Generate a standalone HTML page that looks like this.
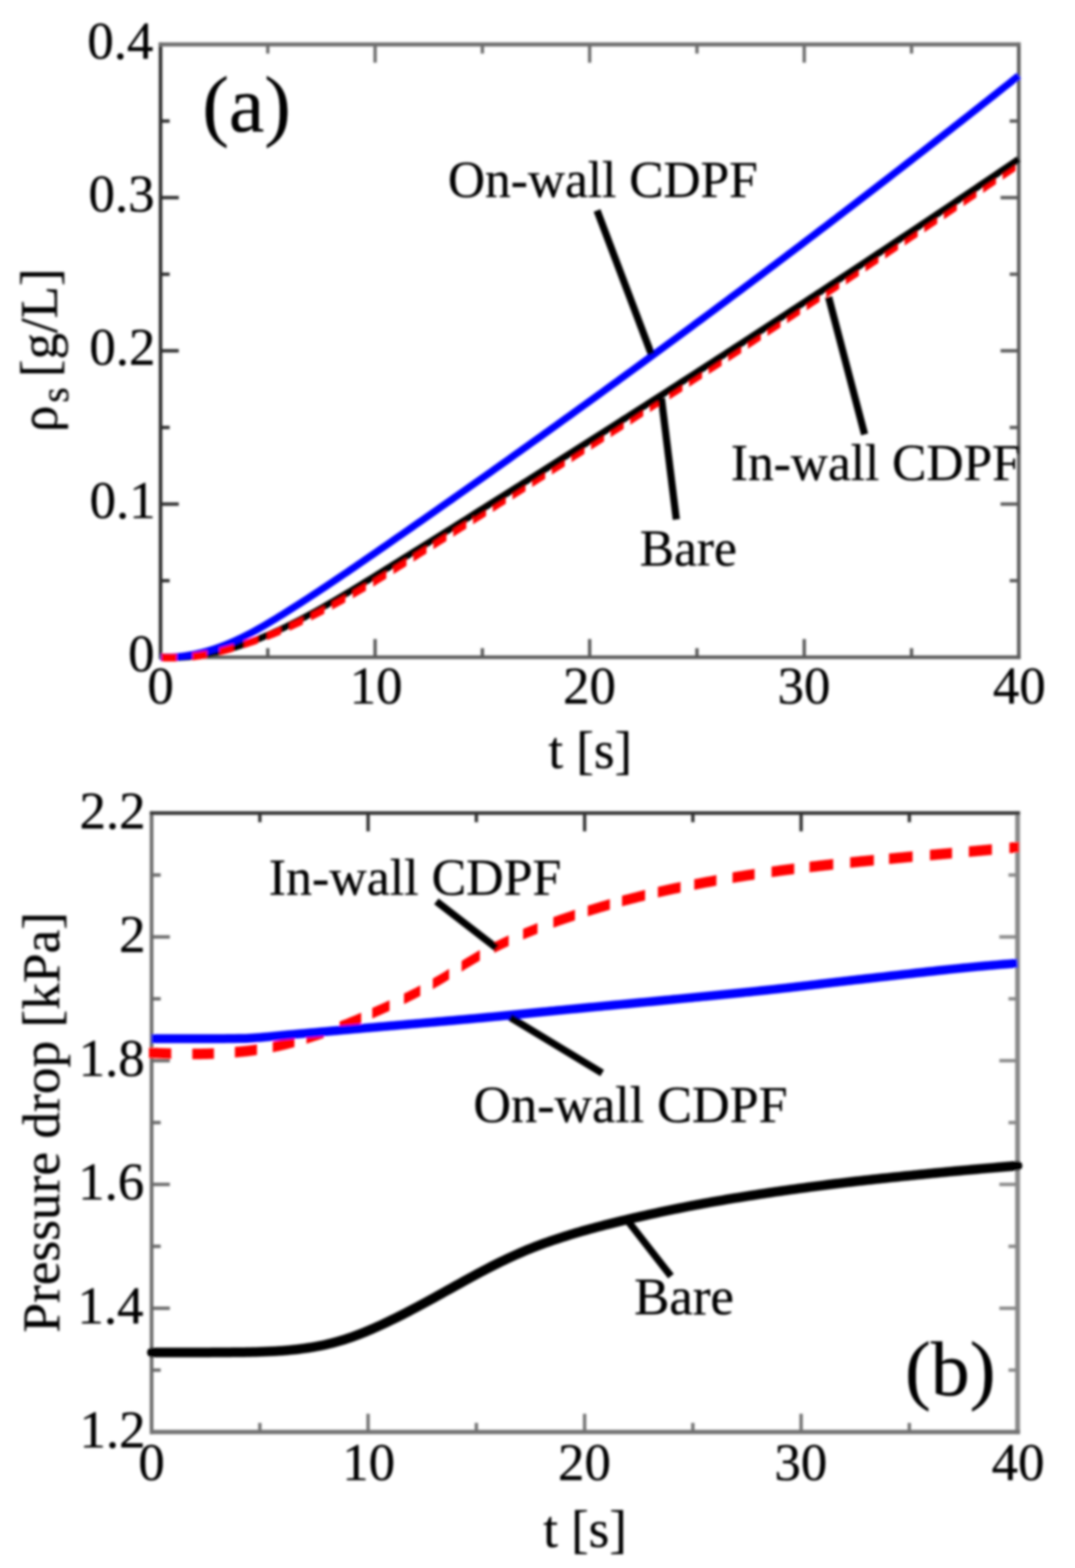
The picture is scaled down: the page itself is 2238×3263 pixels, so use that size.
<!DOCTYPE html>
<html><head><meta charset="utf-8"><title>Plot</title>
<style>
html,body{margin:0;padding:0;background:#fff;}
svg{display:block;}
text{font-family:"Liberation Serif", "Times New Roman", serif;fill:#000;stroke:#000;stroke-width:0.6px;}
</style></head>
<body>
<svg xmlns="http://www.w3.org/2000/svg" width="2238" height="3263" viewBox="0 0 2238 3263">
<defs><filter id="bl" x="0" y="0" width="100%" height="100%"><feGaussianBlur stdDeviation="2.5"/></filter></defs>
<rect width="2238" height="3263" fill="#fff"/>
<g filter="url(#bl)">
<line x1="334.2" y1="88.2" x2="334.2" y2="1371.5" stroke="#2e2e2e" stroke-width="7.5" stroke-linecap="butt"/>
<line x1="2121.0" y1="88.2" x2="2121.0" y2="1371.5" stroke="#5a5a5a" stroke-width="7.5" stroke-linecap="butt"/>
<line x1="330.4" y1="92.5" x2="2124.8" y2="92.5" stroke="#6e6e6e" stroke-width="8.5" stroke-linecap="butt"/>
<line x1="330.4" y1="1367.8" x2="2124.8" y2="1367.8" stroke="#5a5a5a" stroke-width="7.5" stroke-linecap="butt"/>
<line x1="780.9" y1="1367.8" x2="780.9" y2="1329.8" stroke="#5a5a5a" stroke-width="7"/>
<line x1="780.9" y1="92.5" x2="780.9" y2="130.5" stroke="#6e6e6e" stroke-width="7"/>
<line x1="1227.6" y1="1367.8" x2="1227.6" y2="1329.8" stroke="#5a5a5a" stroke-width="7"/>
<line x1="1227.6" y1="92.5" x2="1227.6" y2="130.5" stroke="#6e6e6e" stroke-width="7"/>
<line x1="1674.3" y1="1367.8" x2="1674.3" y2="1329.8" stroke="#5a5a5a" stroke-width="7"/>
<line x1="1674.3" y1="92.5" x2="1674.3" y2="130.5" stroke="#6e6e6e" stroke-width="7"/>
<line x1="557.5" y1="1367.8" x2="557.5" y2="1348.8" stroke="#5a5a5a" stroke-width="7"/>
<line x1="557.5" y1="92.5" x2="557.5" y2="111.5" stroke="#6e6e6e" stroke-width="7"/>
<line x1="1004.2" y1="1367.8" x2="1004.2" y2="1348.8" stroke="#5a5a5a" stroke-width="7"/>
<line x1="1004.2" y1="92.5" x2="1004.2" y2="111.5" stroke="#6e6e6e" stroke-width="7"/>
<line x1="1451.0" y1="1367.8" x2="1451.0" y2="1348.8" stroke="#5a5a5a" stroke-width="7"/>
<line x1="1451.0" y1="92.5" x2="1451.0" y2="111.5" stroke="#6e6e6e" stroke-width="7"/>
<line x1="1897.7" y1="1367.8" x2="1897.7" y2="1348.8" stroke="#5a5a5a" stroke-width="7"/>
<line x1="1897.7" y1="92.5" x2="1897.7" y2="111.5" stroke="#6e6e6e" stroke-width="7"/>
<line x1="334.2" y1="1049.0" x2="372.2" y2="1049.0" stroke="#2e2e2e" stroke-width="7"/>
<line x1="2121.0" y1="1049.0" x2="2083.0" y2="1049.0" stroke="#5a5a5a" stroke-width="7"/>
<line x1="334.2" y1="730.1" x2="372.2" y2="730.1" stroke="#2e2e2e" stroke-width="7"/>
<line x1="2121.0" y1="730.1" x2="2083.0" y2="730.1" stroke="#5a5a5a" stroke-width="7"/>
<line x1="334.2" y1="411.3" x2="372.2" y2="411.3" stroke="#2e2e2e" stroke-width="7"/>
<line x1="2121.0" y1="411.3" x2="2083.0" y2="411.3" stroke="#5a5a5a" stroke-width="7"/>
<line x1="334.2" y1="1208.4" x2="353.2" y2="1208.4" stroke="#2e2e2e" stroke-width="7"/>
<line x1="2121.0" y1="1208.4" x2="2102.0" y2="1208.4" stroke="#5a5a5a" stroke-width="7"/>
<line x1="334.2" y1="889.6" x2="353.2" y2="889.6" stroke="#2e2e2e" stroke-width="7"/>
<line x1="2121.0" y1="889.6" x2="2102.0" y2="889.6" stroke="#5a5a5a" stroke-width="7"/>
<line x1="334.2" y1="570.7" x2="353.2" y2="570.7" stroke="#2e2e2e" stroke-width="7"/>
<line x1="2121.0" y1="570.7" x2="2102.0" y2="570.7" stroke="#5a5a5a" stroke-width="7"/>
<line x1="334.2" y1="251.9" x2="353.2" y2="251.9" stroke="#2e2e2e" stroke-width="7"/>
<line x1="2121.0" y1="251.9" x2="2102.0" y2="251.9" stroke="#5a5a5a" stroke-width="7"/>
<text x="306.7" y="1464.0" font-size="110">0</text>
<text x="728.1" y="1464.0" font-size="110">10</text>
<text x="1172.3" y="1464.0" font-size="110">20</text>
<text x="1618.8" y="1464.0" font-size="110">30</text>
<text x="2067.0" y="1464.0" font-size="110">40</text>
<text x="266.7" y="1396.8" font-size="110">0</text>
<text x="186.6" y="1078.0" font-size="110">0.1</text>
<text x="186.0" y="759.1" font-size="110">0.2</text>
<text x="184.3" y="440.3" font-size="110">0.3</text>
<text x="181.8" y="121.5" font-size="110">0.4</text>
<path d="M334.2,1367.8 L341.7,1368.3 L349.2,1368.5 L356.6,1368.6 L364.1,1368.6 L371.6,1368.4 L379.1,1368.0 L386.5,1367.5 L394.0,1366.9 L401.5,1366.1 L409.0,1365.2 L416.4,1364.1 L423.9,1362.9 L431.4,1361.6 L438.9,1360.1 L446.3,1358.5 L453.8,1356.8 L461.3,1355.0 L468.8,1353.0 L476.2,1351.0 L483.7,1348.8 L491.2,1346.5 L498.7,1344.1 L506.2,1341.5 L513.6,1338.9 L521.1,1336.2 L528.6,1333.4 L536.1,1330.5 L543.5,1327.4 L551.0,1324.3 L558.5,1321.2 L566.0,1317.9 L573.4,1314.5 L580.9,1311.1 L588.4,1307.6 L595.9,1304.0 L603.3,1300.3 L610.8,1296.6 L618.3,1292.8 L625.8,1288.9 L633.2,1285.0 L640.7,1281.0 L648.2,1276.9 L655.7,1272.8 L663.2,1268.7 L670.6,1264.5 L678.1,1260.2 L685.6,1255.9 L693.1,1251.6 L700.5,1247.2 L708.0,1242.8 L715.5,1238.4 L723.0,1233.9 L730.4,1229.4 L737.9,1224.8 L745.4,1220.3 L752.9,1215.7 L760.3,1211.1 L767.8,1206.5 L775.3,1201.9 L782.8,1197.3 L790.2,1192.6 L797.7,1188.0 L805.2,1183.3 L812.7,1178.7 L820.1,1174.0 L827.6,1169.4 L835.1,1164.7 L842.6,1160.1 L850.1,1155.4 L857.5,1150.7 L865.0,1146.1 L872.5,1141.4 L880.0,1136.8 L887.4,1132.1 L894.9,1127.4 L902.4,1122.7 L909.9,1118.1 L917.3,1113.4 L924.8,1108.7 L932.3,1104.0 L939.8,1099.4 L947.2,1094.7 L954.7,1090.0 L962.2,1085.3 L969.7,1080.6 L977.1,1075.9 L984.6,1071.2 L992.1,1066.5 L999.6,1061.8 L1007.1,1057.2 L1014.5,1052.5 L1022.0,1047.7 L1029.5,1043.0 L1037.0,1038.3 L1044.4,1033.6 L1051.9,1028.9 L1059.4,1024.2 L1066.9,1019.5 L1074.3,1014.8 L1081.8,1010.1 L1089.3,1005.3 L1096.8,1000.6 L1104.2,995.9 L1111.7,991.2 L1119.2,986.4 L1126.7,981.7 L1134.1,977.0 L1141.6,972.2 L1149.1,967.5 L1156.6,962.8 L1164.1,958.0 L1171.5,953.3 L1179.0,948.5 L1186.5,943.8 L1194.0,939.0 L1201.4,934.3 L1208.9,929.5 L1216.4,924.8 L1223.9,920.0 L1231.3,915.3 L1238.8,910.5 L1246.3,905.7 L1253.8,901.0 L1261.2,896.2 L1268.7,891.4 L1276.2,886.7 L1283.7,881.9 L1291.1,877.1 L1298.6,872.3 L1306.1,867.6 L1313.6,862.8 L1321.1,858.0 L1328.5,853.2 L1336.0,848.4 L1343.5,843.6 L1351.0,838.8 L1358.4,834.0 L1365.9,829.2 L1373.4,824.4 L1380.9,819.6 L1388.3,814.8 L1395.8,810.0 L1403.3,805.2 L1410.8,800.4 L1418.2,795.5 L1425.7,790.7 L1433.2,785.9 L1440.7,781.1 L1448.1,776.3 L1455.6,771.4 L1463.1,766.6 L1470.6,761.8 L1478.1,756.9 L1485.5,752.1 L1493.0,747.2 L1500.5,742.4 L1508.0,737.6 L1515.4,732.7 L1522.9,727.9 L1530.4,723.0 L1537.9,718.1 L1545.3,713.3 L1552.8,708.4 L1560.3,703.6 L1567.8,698.7 L1575.2,693.8 L1582.7,689.0 L1590.2,684.1 L1597.7,679.2 L1605.1,674.3 L1612.6,669.5 L1620.1,664.6 L1627.6,659.7 L1635.1,654.8 L1642.5,649.9 L1650.0,645.0 L1657.5,640.1 L1665.0,635.2 L1672.4,630.3 L1679.9,625.4 L1687.4,620.5 L1694.9,615.6 L1702.3,610.7 L1709.8,605.8 L1717.3,600.8 L1724.8,595.9 L1732.2,591.0 L1739.7,586.1 L1747.2,581.1 L1754.7,576.2 L1762.1,571.3 L1769.6,566.3 L1777.1,561.4 L1784.6,556.5 L1792.0,551.5 L1799.5,546.6 L1807.0,541.6 L1814.5,536.7 L1822.0,531.7 L1829.4,526.7 L1836.9,521.8 L1844.4,516.8 L1851.9,511.9 L1859.3,506.9 L1866.8,501.9 L1874.3,496.9 L1881.8,492.0 L1889.2,487.0 L1896.7,482.0 L1904.2,477.0 L1911.7,472.0 L1919.1,467.0 L1926.6,462.0 L1934.1,457.0 L1941.6,452.0 L1949.0,447.0 L1956.5,442.0 L1964.0,437.0 L1971.5,432.0 L1979.0,427.0 L1986.4,422.0 L1993.9,416.9 L2001.4,411.9 L2008.9,406.9 L2016.3,401.9 L2023.8,396.8 L2031.3,391.8 L2038.8,386.7 L2046.2,381.7 L2053.7,376.7 L2061.2,371.6 L2068.7,366.6 L2076.1,361.5 L2083.6,356.4 L2091.1,351.4 L2098.6,346.3 L2106.0,341.2 L2113.5,336.2 L2121.0,331.1" fill="none" stroke="#000" stroke-width="13.5" stroke-linejoin="round"/>
<path d="M334.2,1367.4 L341.7,1367.6 L349.2,1367.6 L356.6,1367.4 L364.1,1367.0 L371.6,1366.4 L379.1,1365.6 L386.5,1364.6 L394.0,1363.4 L401.5,1362.1 L409.0,1360.6 L416.4,1358.9 L423.9,1357.0 L431.4,1355.0 L438.9,1352.7 L446.3,1350.4 L453.8,1347.8 L461.3,1345.1 L468.8,1342.2 L476.2,1339.1 L483.7,1335.9 L491.2,1332.6 L498.7,1329.1 L506.2,1325.5 L513.6,1321.7 L521.1,1317.8 L528.6,1313.8 L536.1,1309.7 L543.5,1305.5 L551.0,1301.2 L558.5,1296.8 L566.0,1292.3 L573.4,1287.8 L580.9,1283.2 L588.4,1278.6 L595.9,1273.9 L603.3,1269.2 L610.8,1264.4 L618.3,1259.7 L625.8,1254.9 L633.2,1250.0 L640.7,1245.2 L648.2,1240.3 L655.7,1235.4 L663.2,1230.5 L670.6,1225.5 L678.1,1220.6 L685.6,1215.6 L693.1,1210.6 L700.5,1205.5 L708.0,1200.5 L715.5,1195.4 L723.0,1190.4 L730.4,1185.3 L737.9,1180.2 L745.4,1175.0 L752.9,1169.9 L760.3,1164.8 L767.8,1159.6 L775.3,1154.5 L782.8,1149.3 L790.2,1144.1 L797.7,1139.0 L805.2,1133.8 L812.7,1128.6 L820.1,1123.4 L827.6,1118.2 L835.1,1113.1 L842.6,1107.9 L850.1,1102.7 L857.5,1097.5 L865.0,1092.2 L872.5,1087.0 L880.0,1081.8 L887.4,1076.6 L894.9,1071.4 L902.4,1066.1 L909.9,1060.9 L917.3,1055.7 L924.8,1050.4 L932.3,1045.2 L939.8,1040.0 L947.2,1034.7 L954.7,1029.4 L962.2,1024.2 L969.7,1018.9 L977.1,1013.7 L984.6,1008.4 L992.1,1003.1 L999.6,997.8 L1007.1,992.6 L1014.5,987.3 L1022.0,982.0 L1029.5,976.7 L1037.0,971.4 L1044.4,966.1 L1051.9,960.8 L1059.4,955.5 L1066.9,950.2 L1074.3,944.8 L1081.8,939.5 L1089.3,934.2 L1096.8,928.9 L1104.2,923.5 L1111.7,918.2 L1119.2,912.8 L1126.7,907.5 L1134.1,902.1 L1141.6,896.8 L1149.1,891.4 L1156.6,886.1 L1164.1,880.7 L1171.5,875.3 L1179.0,869.9 L1186.5,864.6 L1194.0,859.2 L1201.4,853.8 L1208.9,848.4 L1216.4,843.0 L1223.9,837.6 L1231.3,832.2 L1238.8,826.8 L1246.3,821.4 L1253.8,816.0 L1261.2,810.5 L1268.7,805.1 L1276.2,799.7 L1283.7,794.3 L1291.1,788.8 L1298.6,783.4 L1306.1,777.9 L1313.6,772.5 L1321.1,767.0 L1328.5,761.6 L1336.0,756.1 L1343.5,750.6 L1351.0,745.2 L1358.4,739.7 L1365.9,734.2 L1373.4,728.7 L1380.9,723.2 L1388.3,717.7 L1395.8,712.2 L1403.3,706.7 L1410.8,701.2 L1418.2,695.7 L1425.7,690.2 L1433.2,684.7 L1440.7,679.2 L1448.1,673.6 L1455.6,668.1 L1463.1,662.6 L1470.6,657.0 L1478.1,651.5 L1485.5,645.9 L1493.0,640.4 L1500.5,634.8 L1508.0,629.2 L1515.4,623.7 L1522.9,618.1 L1530.4,612.5 L1537.9,606.9 L1545.3,601.4 L1552.8,595.8 L1560.3,590.2 L1567.8,584.6 L1575.2,579.0 L1582.7,573.4 L1590.2,567.8 L1597.7,562.1 L1605.1,556.5 L1612.6,550.9 L1620.1,545.3 L1627.6,539.6 L1635.1,534.0 L1642.5,528.3 L1650.0,522.7 L1657.5,517.0 L1665.0,511.4 L1672.4,505.7 L1679.9,500.1 L1687.4,494.4 L1694.9,488.7 L1702.3,483.0 L1709.8,477.3 L1717.3,471.7 L1724.8,466.0 L1732.2,460.3 L1739.7,454.6 L1747.2,448.8 L1754.7,443.1 L1762.1,437.4 L1769.6,431.7 L1777.1,426.0 L1784.6,420.2 L1792.0,414.5 L1799.5,408.8 L1807.0,403.0 L1814.5,397.3 L1822.0,391.5 L1829.4,385.8 L1836.9,380.0 L1844.4,374.2 L1851.9,368.5 L1859.3,362.7 L1866.8,356.9 L1874.3,351.1 L1881.8,345.3 L1889.2,339.5 L1896.7,333.7 L1904.2,327.9 L1911.7,322.1 L1919.1,316.3 L1926.6,310.5 L1934.1,304.6 L1941.6,298.8 L1949.0,293.0 L1956.5,287.1 L1964.0,281.3 L1971.5,275.4 L1979.0,269.6 L1986.4,263.7 L1993.9,257.9 L2001.4,252.0 L2008.9,246.1 L2016.3,240.3 L2023.8,234.4 L2031.3,228.5 L2038.8,222.6 L2046.2,216.7 L2053.7,210.8 L2061.2,204.9 L2068.7,199.0 L2076.1,193.1 L2083.6,187.1 L2091.1,181.2 L2098.6,175.3 L2106.0,169.3 L2113.5,163.4 L2121.0,157.5" fill="none" stroke="#00f" stroke-width="15" stroke-linejoin="round"/>
<path d="M336.2,1359.9 L340.2,1360.2 L344.2,1360.4 L348.2,1360.5 L352.2,1360.6 L356.2,1360.6 L360.2,1360.6 L364.2,1360.6 L368.1,1360.5 L368.1,1376.5 L364.2,1376.6 L360.2,1376.6 L356.2,1376.6 L352.2,1376.6 L348.2,1376.5 L344.2,1376.4 L340.2,1376.2 L336.2,1375.9 Z M400.7,1358.2 L404.4,1357.8 L408.2,1357.3 L412.0,1356.8 L415.8,1356.2 L419.5,1355.6 L423.3,1355.0 L427.1,1354.4 L430.9,1353.7 L430.9,1369.7 L427.1,1370.4 L423.3,1371.0 L419.5,1371.6 L415.8,1372.2 L412.0,1372.8 L408.2,1373.3 L404.4,1373.8 L400.7,1374.2 Z M456.9,1348.1 L460.5,1347.2 L464.2,1346.2 L467.8,1345.3 L471.5,1344.3 L475.1,1343.3 L478.8,1342.2 L482.4,1341.1 L486.1,1340.0 L486.1,1356.0 L482.4,1357.1 L478.8,1358.2 L475.1,1359.3 L471.5,1360.3 L467.8,1361.3 L464.2,1362.2 L460.5,1363.2 L456.9,1364.1 Z M508.3,1332.8 L511.8,1331.6 L515.4,1330.4 L519.0,1329.2 L522.5,1328.1 L526.1,1326.9 L529.7,1325.7 L533.3,1324.5 L536.8,1323.2 L536.8,1339.2 L533.3,1340.5 L529.7,1341.7 L526.1,1342.9 L522.5,1344.1 L519.0,1345.2 L515.4,1346.4 L511.8,1347.6 L508.3,1348.8 Z M556.6,1315.9 L560.1,1314.6 L563.6,1313.2 L567.1,1311.8 L570.7,1310.4 L574.2,1308.9 L577.7,1307.5 L581.2,1306.0 L584.7,1304.5 L584.7,1320.5 L581.2,1322.0 L577.7,1323.5 L574.2,1324.9 L570.7,1326.4 L567.1,1327.8 L563.6,1329.2 L560.1,1330.6 L556.6,1331.9 Z M602.8,1296.6 L606.8,1294.8 L610.8,1293.0 L614.8,1291.1 L618.8,1289.3 L622.7,1287.4 L626.7,1285.5 L630.7,1283.6 L630.7,1299.6 L626.7,1301.5 L622.7,1303.4 L618.8,1305.3 L614.8,1307.1 L610.8,1309.0 L606.8,1310.8 L602.8,1312.6 Z M647.7,1275.3 L651.6,1273.3 L655.6,1271.3 L659.5,1269.3 L663.4,1267.3 L667.4,1265.2 L671.3,1263.2 L675.3,1261.1 L675.3,1277.1 L671.3,1279.2 L667.4,1281.2 L663.4,1283.3 L659.5,1285.3 L655.6,1287.3 L651.6,1289.3 L647.7,1291.3 Z M691.4,1252.5 L695.4,1250.4 L699.3,1248.3 L703.2,1246.2 L707.1,1244.0 L711.1,1241.9 L715.0,1239.7 L718.9,1237.5 L718.9,1253.5 L715.0,1255.7 L711.1,1257.9 L707.1,1260.0 L703.2,1262.2 L699.3,1264.3 L695.4,1266.4 L691.4,1268.5 Z M734.5,1228.9 L738.4,1226.7 L742.3,1224.5 L746.2,1222.3 L750.1,1220.0 L754.0,1217.8 L757.9,1215.6 L761.8,1213.4 L761.8,1229.4 L757.9,1231.6 L754.0,1233.8 L750.1,1236.0 L746.2,1238.3 L742.3,1240.5 L738.4,1242.7 L734.5,1244.9 Z M776.9,1204.7 L780.8,1202.4 L784.7,1200.1 L788.6,1197.6 L792.5,1195.2 L796.4,1192.8 L800.3,1190.4 L804.2,1188.0 L804.2,1204.0 L800.3,1206.4 L796.4,1208.8 L792.5,1211.2 L788.6,1213.6 L784.7,1216.1 L780.8,1218.4 L776.9,1220.7 Z M819.0,1178.8 L822.9,1176.3 L826.8,1173.9 L830.6,1171.5 L834.5,1169.1 L838.4,1166.7 L842.3,1164.2 L846.2,1161.8 L846.2,1177.8 L842.3,1180.2 L838.4,1182.7 L834.5,1185.1 L830.6,1187.5 L826.8,1189.9 L822.9,1192.3 L819.0,1194.8 Z M860.7,1152.7 L864.6,1150.3 L868.5,1147.9 L872.4,1145.5 L876.2,1143.1 L880.1,1140.6 L884.0,1138.2 L887.9,1135.8 L887.9,1151.8 L884.0,1154.2 L880.1,1156.6 L876.2,1159.1 L872.4,1161.5 L868.5,1163.9 L864.6,1166.3 L860.7,1168.7 Z M902.3,1126.8 L906.1,1124.4 L910.0,1122.0 L913.9,1119.6 L917.7,1117.1 L921.6,1114.7 L925.5,1112.3 L929.4,1109.9 L929.4,1125.9 L925.5,1128.3 L921.6,1130.7 L917.7,1133.1 L913.9,1135.6 L910.0,1138.0 L906.1,1140.4 L902.3,1142.8 Z M943.6,1101.0 L947.5,1098.5 L951.3,1096.1 L955.2,1093.7 L959.1,1091.3 L962.9,1088.8 L966.8,1086.4 L970.7,1084.0 L970.7,1100.0 L966.8,1102.4 L962.9,1104.8 L959.1,1107.3 L955.2,1109.7 L951.3,1112.1 L947.5,1114.5 L943.6,1117.0 Z M984.8,1075.1 L988.7,1072.7 L992.5,1070.3 L996.4,1067.8 L1000.3,1065.4 L1004.1,1063.0 L1008.0,1060.5 L1011.9,1058.1 L1011.9,1074.1 L1008.0,1076.5 L1004.1,1079.0 L1000.3,1081.4 L996.4,1083.8 L992.5,1086.3 L988.7,1088.7 L984.8,1091.1 Z M1025.9,1049.3 L1029.8,1046.9 L1033.7,1044.4 L1037.5,1042.0 L1041.4,1039.6 L1045.2,1037.1 L1049.1,1034.7 L1053.0,1032.3 L1053.0,1048.3 L1049.1,1050.7 L1045.2,1053.1 L1041.4,1055.6 L1037.5,1058.0 L1033.7,1060.4 L1029.8,1062.9 L1025.9,1065.3 Z M1067.0,1023.4 L1070.8,1021.0 L1074.7,1018.6 L1078.6,1016.1 L1082.4,1013.7 L1086.3,1011.2 L1090.1,1008.8 L1094.0,1006.4 L1094.0,1022.4 L1090.1,1024.8 L1086.3,1027.2 L1082.4,1029.7 L1078.6,1032.1 L1074.7,1034.6 L1070.8,1037.0 L1067.0,1039.4 Z M1107.9,997.6 L1111.8,995.1 L1115.7,992.7 L1119.5,990.2 L1123.4,987.8 L1127.3,985.3 L1131.1,982.9 L1135.0,980.5 L1135.0,996.5 L1131.1,998.9 L1127.3,1001.3 L1123.4,1003.8 L1119.5,1006.2 L1115.7,1008.7 L1111.8,1011.1 L1107.9,1013.6 Z M1148.9,971.6 L1152.7,969.2 L1156.6,966.8 L1160.5,964.3 L1164.3,961.9 L1168.2,959.4 L1172.0,957.0 L1175.9,954.5 L1175.9,970.5 L1172.0,973.0 L1168.2,975.4 L1164.3,977.9 L1160.5,980.3 L1156.6,982.8 L1152.7,985.2 L1148.9,987.6 Z M1189.8,945.7 L1193.7,943.2 L1197.5,940.8 L1201.4,938.3 L1205.2,935.9 L1209.1,933.4 L1212.9,931.0 L1216.8,928.5 L1216.8,944.5 L1212.9,947.0 L1209.1,949.4 L1205.2,951.9 L1201.4,954.3 L1197.5,956.8 L1193.7,959.2 L1189.8,961.7 Z M1230.6,919.7 L1234.5,917.3 L1238.3,914.8 L1242.2,912.4 L1246.0,909.9 L1249.9,907.5 L1253.7,905.0 L1257.6,902.5 L1257.6,918.5 L1253.7,921.0 L1249.9,923.5 L1246.0,925.9 L1242.2,928.4 L1238.3,930.8 L1234.5,933.3 L1230.6,935.7 Z M1271.4,893.7 L1275.3,891.3 L1279.1,888.8 L1283.0,886.3 L1286.8,883.9 L1290.7,881.4 L1294.5,878.9 L1298.4,876.5 L1298.4,892.5 L1294.5,894.9 L1290.7,897.4 L1286.8,899.9 L1283.0,902.3 L1279.1,904.8 L1275.3,907.3 L1271.4,909.7 Z M1312.2,867.7 L1316.1,865.2 L1319.9,862.7 L1323.8,860.2 L1327.6,857.8 L1331.5,855.3 L1335.3,852.8 L1339.2,850.3 L1339.2,866.3 L1335.3,868.8 L1331.5,871.3 L1327.6,873.8 L1323.8,876.2 L1319.9,878.7 L1316.1,881.2 L1312.2,883.7 Z M1353.0,841.5 L1356.9,839.0 L1360.7,836.5 L1364.6,834.1 L1368.4,831.6 L1372.3,829.1 L1376.1,826.6 L1380.0,824.2 L1380.0,840.2 L1376.1,842.6 L1372.3,845.1 L1368.4,847.6 L1364.6,850.1 L1360.7,852.5 L1356.9,855.0 L1353.0,857.5 Z M1393.8,815.3 L1397.7,812.8 L1401.5,810.3 L1405.4,807.8 L1409.2,805.4 L1413.1,802.9 L1416.9,800.4 L1420.8,797.9 L1420.8,813.9 L1416.9,816.4 L1413.1,818.9 L1409.2,821.4 L1405.4,823.8 L1401.5,826.3 L1397.7,828.8 L1393.8,831.3 Z M1434.6,789.0 L1438.5,786.5 L1442.3,784.0 L1446.2,781.5 L1450.0,779.0 L1453.9,776.5 L1457.7,774.1 L1461.6,771.6 L1461.6,787.6 L1457.7,790.1 L1453.9,792.5 L1450.0,795.0 L1446.2,797.5 L1442.3,800.0 L1438.5,802.5 L1434.6,805.0 Z M1475.4,762.6 L1479.3,760.1 L1483.1,757.6 L1487.0,755.2 L1490.8,752.7 L1494.7,750.2 L1498.5,747.7 L1502.4,745.2 L1502.4,761.2 L1498.5,763.7 L1494.7,766.2 L1490.8,768.7 L1487.0,771.2 L1483.1,773.6 L1479.3,776.1 L1475.4,778.6 Z M1516.2,736.2 L1520.1,733.7 L1523.9,731.2 L1527.8,728.7 L1531.6,726.2 L1535.5,723.7 L1539.3,721.2 L1543.2,718.7 L1543.2,734.7 L1539.3,737.2 L1535.5,739.7 L1531.6,742.2 L1527.8,744.7 L1523.9,747.2 L1520.1,749.7 L1516.2,752.2 Z M1557.0,709.7 L1560.9,707.2 L1564.7,704.7 L1568.6,702.2 L1572.4,699.7 L1576.3,697.1 L1580.1,694.6 L1584.0,692.1 L1584.0,708.1 L1580.1,710.6 L1576.3,713.1 L1572.4,715.7 L1568.6,718.2 L1564.7,720.7 L1560.9,723.2 L1557.0,725.7 Z M1597.8,683.1 L1601.7,680.6 L1605.5,678.1 L1609.4,675.6 L1613.2,673.1 L1617.1,670.5 L1620.9,668.0 L1624.8,665.5 L1624.8,681.5 L1620.9,684.0 L1617.1,686.5 L1613.2,689.1 L1609.4,691.6 L1605.5,694.1 L1601.7,696.6 L1597.8,699.1 Z M1638.6,656.5 L1642.5,653.9 L1646.3,651.4 L1650.2,648.9 L1654.0,646.4 L1657.9,643.8 L1661.7,641.3 L1665.6,638.8 L1665.6,654.8 L1661.7,657.3 L1657.9,659.8 L1654.0,662.4 L1650.2,664.9 L1646.3,667.4 L1642.5,669.9 L1638.6,672.5 Z M1679.4,629.7 L1683.3,627.2 L1687.1,624.7 L1691.0,622.1 L1694.8,619.6 L1698.7,617.1 L1702.5,614.5 L1706.4,612.0 L1706.4,628.0 L1702.5,630.5 L1698.7,633.1 L1694.8,635.6 L1691.0,638.1 L1687.1,640.7 L1683.3,643.2 L1679.4,645.7 Z M1720.2,602.9 L1724.1,600.4 L1727.9,597.8 L1731.8,595.3 L1735.6,592.8 L1739.5,590.2 L1743.3,587.7 L1747.2,585.1 L1747.2,601.1 L1743.3,603.7 L1739.5,606.2 L1735.6,608.8 L1731.8,611.3 L1727.9,613.8 L1724.1,616.4 L1720.2,618.9 Z M1761.0,576.0 L1764.9,573.5 L1768.7,570.9 L1772.6,568.4 L1776.4,565.8 L1780.3,563.3 L1784.1,560.7 L1788.0,558.2 L1788.0,574.2 L1784.1,576.7 L1780.3,579.3 L1776.4,581.8 L1772.6,584.4 L1768.7,586.9 L1764.9,589.5 L1761.0,592.0 Z M1801.8,549.1 L1805.7,546.5 L1809.5,544.0 L1813.4,541.4 L1817.2,538.8 L1821.1,536.3 L1824.9,533.7 L1828.8,531.2 L1828.8,547.2 L1824.9,549.7 L1821.1,552.3 L1817.2,554.8 L1813.4,557.4 L1809.5,560.0 L1805.7,562.5 L1801.8,565.1 Z M1842.6,522.0 L1846.5,519.4 L1850.3,516.9 L1854.2,514.3 L1858.0,511.8 L1861.9,509.2 L1865.7,506.6 L1869.6,504.1 L1869.6,520.1 L1865.7,522.6 L1861.9,525.2 L1858.0,527.8 L1854.2,530.3 L1850.3,532.9 L1846.5,535.4 L1842.6,538.0 Z M1883.4,494.9 L1887.3,492.3 L1891.1,489.7 L1895.0,487.2 L1898.8,484.6 L1902.7,482.0 L1906.5,479.4 L1910.4,476.9 L1910.4,492.9 L1906.5,495.4 L1902.7,498.0 L1898.8,500.6 L1895.0,503.2 L1891.1,505.7 L1887.3,508.3 L1883.4,510.9 Z M1924.2,467.6 L1928.1,465.1 L1931.9,462.5 L1935.8,459.9 L1939.6,457.3 L1943.5,454.7 L1947.3,452.2 L1951.2,449.6 L1951.2,465.6 L1947.3,468.2 L1943.5,470.7 L1939.6,473.3 L1935.8,475.9 L1931.9,478.5 L1928.1,481.1 L1924.2,483.6 Z M1965.0,440.3 L1968.9,437.7 L1972.7,435.2 L1976.6,432.6 L1980.4,430.0 L1984.3,427.4 L1988.1,424.8 L1992.0,422.2 L1992.0,438.2 L1988.1,440.8 L1984.3,443.4 L1980.4,446.0 L1976.6,448.6 L1972.7,451.2 L1968.9,453.7 L1965.0,456.3 Z M2005.8,412.9 L2009.7,410.3 L2013.5,407.7 L2017.4,405.2 L2021.2,402.6 L2025.1,400.0 L2028.9,397.4 L2032.8,394.8 L2032.8,410.8 L2028.9,413.4 L2025.1,416.0 L2021.2,418.6 L2017.4,421.2 L2013.5,423.7 L2009.7,426.3 L2005.8,428.9 Z M2046.6,385.5 L2050.5,382.9 L2054.3,380.2 L2058.2,377.6 L2062.0,375.0 L2065.9,372.4 L2069.7,369.8 L2073.6,367.2 L2073.6,383.2 L2069.7,385.8 L2065.9,388.4 L2062.0,391.0 L2058.2,393.6 L2054.3,396.2 L2050.5,398.9 L2046.6,401.5 Z M2087.4,357.9 L2091.3,355.3 L2095.1,352.7 L2099.0,350.0 L2102.8,347.4 L2106.7,344.8 L2110.5,342.2 L2114.4,339.6 L2114.4,355.6 L2110.5,358.2 L2106.7,360.8 L2102.8,363.4 L2099.0,366.0 L2095.1,368.7 L2091.3,371.3 L2087.4,373.9 Z " fill="#f00"/>
<path d="M984.6,1071.2 L992.1,1066.5 L999.6,1061.8 L1007.1,1057.2 L1014.5,1052.5 L1022.0,1047.7 L1029.5,1043.0 L1037.0,1038.3 L1044.4,1033.6 L1051.9,1028.9 L1059.4,1024.2 L1066.9,1019.5 L1074.3,1014.8 L1081.8,1010.1 L1089.3,1005.3 L1096.8,1000.6 L1104.2,995.9 L1111.7,991.2 L1119.2,986.4 L1126.7,981.7 L1134.1,977.0 L1141.6,972.2 L1149.1,967.5 L1156.6,962.8 L1164.1,958.0 L1171.5,953.3 L1179.0,948.5 L1186.5,943.8 L1194.0,939.0 L1201.4,934.3 L1208.9,929.5 L1216.4,924.8 L1223.9,920.0 L1231.3,915.3 L1238.8,910.5 L1246.3,905.7 L1253.8,901.0 L1261.2,896.2 L1268.7,891.4 L1276.2,886.7 L1283.7,881.9 L1291.1,877.1 L1298.6,872.3 L1306.1,867.6 L1313.6,862.8 L1321.1,858.0 L1328.5,853.2 L1336.0,848.4 L1343.5,843.6 L1351.0,838.8 L1358.4,834.0 L1365.9,829.2 L1373.4,824.4 L1380.9,819.6 L1388.3,814.8 L1395.8,810.0 L1403.3,805.2 L1410.8,800.4 L1418.2,795.5 L1425.7,790.7 L1433.2,785.9 L1440.7,781.1 L1448.1,776.3 L1455.6,771.4 L1463.1,766.6 L1470.6,761.8 L1478.1,756.9 L1485.5,752.1 L1493.0,747.2 L1500.5,742.4 L1508.0,737.6 L1515.4,732.7 L1522.9,727.9 L1530.4,723.0 L1537.9,718.1 L1545.3,713.3 L1552.8,708.4 L1560.3,703.6 L1567.8,698.7 L1575.2,693.8 L1582.7,689.0 L1590.2,684.1 L1597.7,679.2 L1605.1,674.3 L1612.6,669.5 L1620.1,664.6 L1627.6,659.7 L1635.1,654.8 L1642.5,649.9 L1650.0,645.0 L1657.5,640.1 L1665.0,635.2 L1672.4,630.3 L1679.9,625.4 L1687.4,620.5 L1694.9,615.6 L1702.3,610.7 L1709.8,605.8 L1717.3,600.8 L1724.8,595.9 L1732.2,591.0 L1739.7,586.1 L1747.2,581.1 L1754.7,576.2 L1762.1,571.3 L1769.6,566.3 L1777.1,561.4 L1784.6,556.5 L1792.0,551.5 L1799.5,546.6 L1807.0,541.6 L1814.5,536.7 L1822.0,531.7 L1829.4,526.7 L1836.9,521.8 L1844.4,516.8 L1851.9,511.9 L1859.3,506.9 L1866.8,501.9 L1874.3,496.9 L1881.8,492.0 L1889.2,487.0 L1896.7,482.0 L1904.2,477.0 L1911.7,472.0 L1919.1,467.0 L1926.6,462.0 L1934.1,457.0 L1941.6,452.0 L1949.0,447.0 L1956.5,442.0 L1964.0,437.0 L1971.5,432.0 L1979.0,427.0 L1986.4,422.0 L1993.9,416.9 L2001.4,411.9 L2008.9,406.9 L2016.3,401.9 L2023.8,396.8 L2031.3,391.8 L2038.8,386.7 L2046.2,381.7 L2053.7,376.7 L2061.2,371.6 L2068.7,366.6 L2076.1,361.5 L2083.6,356.4 L2091.1,351.4 L2098.6,346.3 L2106.0,341.2 L2113.5,336.2 L2121.0,331.1" fill="none" stroke="#000" stroke-width="13.5" stroke-linejoin="round"/>
<line x1="1243.0" y1="438.0" x2="1356.0" y2="737.0" stroke="#000" stroke-width="15"/>
<line x1="1377.0" y1="829.0" x2="1408.0" y2="1081.0" stroke="#000" stroke-width="15"/>
<line x1="1725.0" y1="618.0" x2="1800.0" y2="904.0" stroke="#000" stroke-width="15"/>
<text x="932.6" y="410.0" font-size="107">On-wall CDPF</text>
<text x="1521.6" y="999.0" font-size="107">In-wall CDPF</text>
<text x="1331.9" y="1177.0" font-size="107">Bare</text>
<text x="421.3" y="272.5" font-size="166">(a)</text>
<text x="1141.7" y="1598.0" font-size="110">t [s]</text>
<text transform="translate(118.5,892) rotate(-90)" font-size="110"><tspan x="-7">&#961;</tspan><tspan font-size="82" dx="6" dy="22.5">s</tspan><tspan dx="-6" dy="-22.5"> [g/L]</tspan></text>
<line x1="315.6" y1="1688.3" x2="315.6" y2="2984.5" stroke="#6a6a6a" stroke-width="7.5" stroke-linecap="butt"/>
<line x1="2118.5" y1="1688.3" x2="2118.5" y2="2984.5" stroke="#888888" stroke-width="10" stroke-linecap="butt"/>
<line x1="311.9" y1="1692.1" x2="2123.5" y2="1692.1" stroke="#303030" stroke-width="7.5" stroke-linecap="butt"/>
<line x1="311.9" y1="2980.0" x2="2123.5" y2="2980.0" stroke="#727272" stroke-width="9" stroke-linecap="butt"/>
<line x1="766.3" y1="2980.0" x2="766.3" y2="2942.0" stroke="#727272" stroke-width="7"/>
<line x1="766.3" y1="1692.1" x2="766.3" y2="1730.1" stroke="#303030" stroke-width="7"/>
<line x1="1217.1" y1="2980.0" x2="1217.1" y2="2942.0" stroke="#727272" stroke-width="7"/>
<line x1="1217.1" y1="1692.1" x2="1217.1" y2="1730.1" stroke="#303030" stroke-width="7"/>
<line x1="1667.8" y1="2980.0" x2="1667.8" y2="2942.0" stroke="#727272" stroke-width="7"/>
<line x1="1667.8" y1="1692.1" x2="1667.8" y2="1730.1" stroke="#303030" stroke-width="7"/>
<line x1="541.0" y1="2980.0" x2="541.0" y2="2961.0" stroke="#727272" stroke-width="7"/>
<line x1="541.0" y1="1692.1" x2="541.0" y2="1711.1" stroke="#303030" stroke-width="7"/>
<line x1="991.7" y1="2980.0" x2="991.7" y2="2961.0" stroke="#727272" stroke-width="7"/>
<line x1="991.7" y1="1692.1" x2="991.7" y2="1711.1" stroke="#303030" stroke-width="7"/>
<line x1="1442.4" y1="2980.0" x2="1442.4" y2="2961.0" stroke="#727272" stroke-width="7"/>
<line x1="1442.4" y1="1692.1" x2="1442.4" y2="1711.1" stroke="#303030" stroke-width="7"/>
<line x1="1893.1" y1="2980.0" x2="1893.1" y2="2961.0" stroke="#727272" stroke-width="7"/>
<line x1="1893.1" y1="1692.1" x2="1893.1" y2="1711.1" stroke="#303030" stroke-width="7"/>
<line x1="315.6" y1="2722.4" x2="353.6" y2="2722.4" stroke="#6a6a6a" stroke-width="7"/>
<line x1="2118.5" y1="2722.4" x2="2080.5" y2="2722.4" stroke="#888888" stroke-width="7"/>
<line x1="315.6" y1="2464.8" x2="353.6" y2="2464.8" stroke="#6a6a6a" stroke-width="7"/>
<line x1="2118.5" y1="2464.8" x2="2080.5" y2="2464.8" stroke="#888888" stroke-width="7"/>
<line x1="315.6" y1="2207.3" x2="353.6" y2="2207.3" stroke="#6a6a6a" stroke-width="7"/>
<line x1="2118.5" y1="2207.3" x2="2080.5" y2="2207.3" stroke="#888888" stroke-width="7"/>
<line x1="315.6" y1="1949.7" x2="353.6" y2="1949.7" stroke="#6a6a6a" stroke-width="7"/>
<line x1="2118.5" y1="1949.7" x2="2080.5" y2="1949.7" stroke="#888888" stroke-width="7"/>
<line x1="315.6" y1="2851.2" x2="334.6" y2="2851.2" stroke="#6a6a6a" stroke-width="7"/>
<line x1="2118.5" y1="2851.2" x2="2099.5" y2="2851.2" stroke="#888888" stroke-width="7"/>
<line x1="315.6" y1="2593.6" x2="334.6" y2="2593.6" stroke="#6a6a6a" stroke-width="7"/>
<line x1="2118.5" y1="2593.6" x2="2099.5" y2="2593.6" stroke="#888888" stroke-width="7"/>
<line x1="315.6" y1="2336.1" x2="334.6" y2="2336.1" stroke="#6a6a6a" stroke-width="7"/>
<line x1="2118.5" y1="2336.1" x2="2099.5" y2="2336.1" stroke="#888888" stroke-width="7"/>
<line x1="315.6" y1="2078.5" x2="334.6" y2="2078.5" stroke="#6a6a6a" stroke-width="7"/>
<line x1="2118.5" y1="2078.5" x2="2099.5" y2="2078.5" stroke="#888888" stroke-width="7"/>
<line x1="315.6" y1="1820.9" x2="334.6" y2="1820.9" stroke="#6a6a6a" stroke-width="7"/>
<line x1="2118.5" y1="1820.9" x2="2099.5" y2="1820.9" stroke="#888888" stroke-width="7"/>
<text x="288.1" y="3079.5" font-size="110">0</text>
<text x="712.6" y="3079.5" font-size="110">10</text>
<text x="1161.7" y="3079.5" font-size="110">20</text>
<text x="1612.2" y="3079.5" font-size="110">30</text>
<text x="2064.5" y="3079.5" font-size="110">40</text>
<text x="165.5" y="3011.5" font-size="110">1.2</text>
<text x="161.3" y="2753.9" font-size="110">1.4</text>
<text x="162.8" y="2496.3" font-size="110">1.6</text>
<text x="163.7" y="2238.8" font-size="110">1.8</text>
<text x="248.1" y="1981.2" font-size="110">2</text>
<text x="165.5" y="1723.6" font-size="110">2.2</text>
<path d="M316.0,2814.4 L322.0,2814.4 L328.0,2814.4 L334.0,2814.4 L340.0,2814.4 L346.0,2814.4 L352.0,2814.4 L358.0,2814.4 L364.0,2814.4 L370.1,2814.4 L376.1,2814.4 L382.1,2814.4 L388.1,2814.4 L394.1,2814.4 L400.1,2814.4 L406.1,2814.4 L412.1,2814.4 L418.1,2814.4 L424.1,2814.4 L430.2,2814.4 L436.2,2814.4 L442.2,2814.3 L448.2,2814.3 L454.2,2814.3 L460.2,2814.3 L466.2,2814.3 L472.2,2814.2 L478.2,2814.2 L484.3,2814.1 L490.3,2814.1 L496.3,2814.0 L502.3,2814.0 L508.3,2813.9 L514.3,2813.8 L520.3,2813.7 L526.3,2813.5 L532.3,2813.4 L538.3,2813.2 L544.4,2813.0 L550.4,2812.8 L556.4,2812.6 L562.4,2812.3 L568.4,2812.0 L574.4,2811.7 L580.4,2811.3 L586.4,2810.9 L592.4,2810.5 L598.5,2810.0 L604.5,2809.4 L610.5,2808.8 L616.5,2808.2 L622.5,2807.5 L628.5,2806.7 L634.5,2805.9 L640.5,2805.0 L646.5,2804.1 L652.6,2803.1 L658.6,2802.0 L664.6,2800.9 L670.6,2799.7 L676.6,2798.4 L682.6,2797.0 L688.6,2795.6 L694.6,2794.0 L700.6,2792.4 L706.6,2790.7 L712.7,2788.9 L718.7,2787.1 L724.7,2785.1 L730.7,2783.1 L736.7,2780.9 L742.7,2778.7 L748.7,2776.4 L754.7,2774.0 L760.7,2771.6 L766.8,2769.1 L772.8,2766.5 L778.8,2763.9 L784.8,2761.2 L790.8,2758.5 L796.8,2755.7 L802.8,2752.9 L808.8,2750.0 L814.8,2747.1 L820.8,2744.2 L826.9,2741.2 L832.9,2738.2 L838.9,2735.2 L844.9,2732.1 L850.9,2729.0 L856.9,2725.8 L862.9,2722.7 L868.9,2719.5 L874.9,2716.3 L881.0,2713.0 L887.0,2709.8 L893.0,2706.5 L899.0,2703.2 L905.0,2699.9 L911.0,2696.6 L917.0,2693.3 L923.0,2689.9 L929.0,2686.6 L935.1,2683.2 L941.1,2679.9 L947.1,2676.5 L953.1,2673.2 L959.1,2669.9 L965.1,2666.5 L971.1,2663.2 L977.1,2659.9 L983.1,2656.7 L989.1,2653.4 L995.2,2650.2 L1001.2,2647.0 L1007.2,2643.9 L1013.2,2640.7 L1019.2,2637.6 L1025.2,2634.5 L1031.2,2631.5 L1037.2,2628.5 L1043.2,2625.6 L1049.3,2622.7 L1055.3,2619.8 L1061.3,2617.0 L1067.3,2614.2 L1073.3,2611.5 L1079.3,2608.8 L1085.3,2606.2 L1091.3,2603.6 L1097.3,2601.1 L1103.3,2598.7 L1109.4,2596.3 L1115.4,2593.9 L1121.4,2591.7 L1127.4,2589.4 L1133.4,2587.2 L1139.4,2585.1 L1145.4,2583.0 L1151.4,2580.9 L1157.4,2578.9 L1163.5,2576.9 L1169.5,2575.0 L1175.5,2573.1 L1181.5,2571.2 L1187.5,2569.3 L1193.5,2567.5 L1199.5,2565.7 L1205.5,2564.0 L1211.5,2562.2 L1217.6,2560.5 L1223.6,2558.8 L1229.6,2557.2 L1235.6,2555.6 L1241.6,2553.9 L1247.6,2552.4 L1253.6,2550.8 L1259.6,2549.2 L1265.6,2547.7 L1271.6,2546.2 L1277.7,2544.7 L1283.7,2543.2 L1289.7,2541.7 L1295.7,2540.3 L1301.7,2538.9 L1307.7,2537.4 L1313.7,2536.0 L1319.7,2534.6 L1325.7,2533.2 L1331.8,2531.9 L1337.8,2530.5 L1343.8,2529.2 L1349.8,2527.8 L1355.8,2526.5 L1361.8,2525.2 L1367.8,2523.9 L1373.8,2522.6 L1379.8,2521.3 L1385.8,2520.0 L1391.9,2518.8 L1397.9,2517.5 L1403.9,2516.3 L1409.9,2515.1 L1415.9,2513.9 L1421.9,2512.7 L1427.9,2511.5 L1433.9,2510.3 L1439.9,2509.2 L1446.0,2508.0 L1452.0,2506.9 L1458.0,2505.8 L1464.0,2504.7 L1470.0,2503.6 L1476.0,2502.5 L1482.0,2501.4 L1488.0,2500.4 L1494.0,2499.3 L1500.1,2498.3 L1506.1,2497.3 L1512.1,2496.2 L1518.1,2495.2 L1524.1,2494.2 L1530.1,2493.2 L1536.1,2492.3 L1542.1,2491.3 L1548.1,2490.3 L1554.1,2489.4 L1560.2,2488.4 L1566.2,2487.5 L1572.2,2486.6 L1578.2,2485.6 L1584.2,2484.7 L1590.2,2483.8 L1596.2,2482.9 L1602.2,2482.0 L1608.2,2481.1 L1614.3,2480.2 L1620.3,2479.4 L1626.3,2478.5 L1632.3,2477.6 L1638.3,2476.8 L1644.3,2475.9 L1650.3,2475.1 L1656.3,2474.3 L1662.3,2473.4 L1668.3,2472.6 L1674.4,2471.8 L1680.4,2471.0 L1686.4,2470.2 L1692.4,2469.4 L1698.4,2468.6 L1704.4,2467.8 L1710.4,2467.1 L1716.4,2466.3 L1722.4,2465.5 L1728.5,2464.8 L1734.5,2464.0 L1740.5,2463.3 L1746.5,2462.6 L1752.5,2461.9 L1758.5,2461.1 L1764.5,2460.4 L1770.5,2459.7 L1776.5,2459.0 L1782.6,2458.3 L1788.6,2457.6 L1794.6,2457.0 L1800.6,2456.3 L1806.6,2455.6 L1812.6,2455.0 L1818.6,2454.3 L1824.6,2453.6 L1830.6,2453.0 L1836.6,2452.3 L1842.7,2451.7 L1848.7,2451.1 L1854.7,2450.4 L1860.7,2449.8 L1866.7,2449.2 L1872.7,2448.6 L1878.7,2447.9 L1884.7,2447.3 L1890.7,2446.7 L1896.8,2446.1 L1902.8,2445.5 L1908.8,2444.9 L1914.8,2444.3 L1920.8,2443.7 L1926.8,2443.1 L1932.8,2442.5 L1938.8,2441.9 L1944.8,2441.3 L1950.8,2440.7 L1956.9,2440.1 L1962.9,2439.6 L1968.9,2439.0 L1974.9,2438.4 L1980.9,2437.9 L1986.9,2437.3 L1992.9,2436.7 L1998.9,2436.2 L2004.9,2435.6 L2011.0,2435.1 L2017.0,2434.6 L2023.0,2434.0 L2029.0,2433.5 L2035.0,2433.0 L2041.0,2432.4 L2047.0,2431.9 L2053.0,2431.4 L2059.0,2430.9 L2065.1,2430.4 L2071.1,2429.9 L2077.1,2429.3 L2083.1,2428.8 L2089.1,2428.3 L2095.1,2427.8 L2101.1,2427.3 L2107.1,2426.8 L2118.5,2425.8" fill="none" stroke="#000" stroke-width="20" stroke-linejoin="round" stroke-linecap="round"/>
<path d="M310.0,2180.1 L313.9,2180.1 L317.8,2180.2 L321.6,2180.4 L325.5,2180.5 L329.4,2180.7 L333.2,2180.9 L337.1,2181.0 L341.0,2181.2 L344.9,2181.3 L348.8,2181.4 L352.6,2181.5 L356.5,2181.7 L356.5,2203.7 L352.6,2203.5 L348.8,2203.4 L344.9,2203.3 L341.0,2203.2 L337.1,2203.0 L333.2,2202.9 L329.4,2202.7 L325.5,2202.5 L321.6,2202.4 L317.8,2202.2 L313.9,2202.1 L310.0,2202.1 Z M400.4,2182.3 L404.2,2182.3 L407.9,2182.3 L411.7,2182.3 L415.4,2182.2 L419.2,2182.2 L422.9,2182.1 L426.7,2182.0 L430.5,2181.9 L434.2,2181.8 L438.0,2181.7 L441.7,2181.6 L445.5,2181.4 L445.5,2203.4 L441.7,2203.6 L438.0,2203.7 L434.2,2203.8 L430.5,2203.9 L426.7,2204.0 L422.9,2204.1 L419.2,2204.2 L415.4,2204.2 L411.7,2204.3 L407.9,2204.3 L404.2,2204.3 L400.4,2204.3 Z M489.0,2178.7 L492.8,2178.3 L496.7,2178.0 L500.5,2177.6 L504.3,2177.2 L508.2,2176.8 L512.0,2176.4 L515.8,2175.9 L519.7,2175.4 L523.5,2174.9 L527.3,2174.4 L531.2,2173.9 L535.0,2173.3 L535.0,2195.3 L531.2,2195.9 L527.3,2196.4 L523.5,2196.9 L519.7,2197.4 L515.8,2197.9 L512.0,2198.4 L508.2,2198.8 L504.3,2199.2 L500.5,2199.6 L496.7,2200.0 L492.8,2200.3 L489.0,2200.7 Z M567.8,2167.7 L571.6,2166.9 L575.3,2166.1 L579.1,2165.4 L582.9,2164.5 L586.6,2163.7 L590.4,2162.8 L594.2,2161.9 L597.9,2161.0 L601.7,2160.1 L605.5,2159.1 L609.2,2158.1 L613.0,2157.1 L613.0,2179.1 L609.2,2180.1 L605.5,2181.1 L601.7,2182.1 L597.9,2183.0 L594.2,2183.9 L590.4,2184.8 L586.6,2185.7 L582.9,2186.5 L579.1,2187.4 L575.3,2188.1 L571.6,2188.9 L567.8,2189.7 Z M638.0,2149.9 L641.6,2148.8 L645.2,2147.6 L648.8,2146.5 L652.4,2145.3 L656.0,2144.1 L659.6,2142.9 L663.2,2141.7 L666.8,2140.5 L670.4,2139.3 L674.0,2138.0 L674.0,2160.0 L670.4,2161.3 L666.8,2162.5 L663.2,2163.7 L659.6,2164.9 L656.0,2166.1 L652.4,2167.3 L648.8,2168.5 L645.2,2169.6 L641.6,2170.8 L638.0,2171.9 Z M707.0,2125.8 L710.8,2124.3 L714.5,2122.8 L718.2,2121.4 L722.0,2119.9 L725.8,2118.3 L729.5,2116.8 L733.2,2115.3 L737.0,2113.8 L740.8,2112.2 L744.5,2110.6 L748.2,2109.1 L752.0,2107.5 L752.0,2129.5 L748.2,2131.1 L744.5,2132.6 L740.8,2134.2 L737.0,2135.8 L733.2,2137.3 L729.5,2138.8 L725.8,2140.3 L722.0,2141.9 L718.2,2143.4 L714.5,2144.8 L710.8,2146.3 L707.0,2147.8 Z M775.0,2097.6 L778.6,2096.0 L782.2,2094.4 L785.8,2092.8 L789.4,2091.3 L793.0,2089.7 L796.6,2088.0 L800.2,2086.4 L803.8,2084.8 L807.4,2083.2 L811.0,2081.6 L811.0,2103.6 L807.4,2105.2 L803.8,2106.8 L800.2,2108.4 L796.6,2110.0 L793.0,2111.7 L789.4,2113.3 L785.8,2114.8 L782.2,2116.4 L778.6,2118.0 L775.0,2119.6 Z M841.0,2067.6 L844.8,2065.8 L848.6,2063.9 L852.3,2062.1 L856.1,2060.2 L859.9,2058.3 L863.7,2056.4 L867.4,2054.5 L871.2,2052.6 L875.0,2050.6 L875.0,2072.6 L871.2,2074.6 L867.4,2076.5 L863.7,2078.4 L859.9,2080.3 L856.1,2082.2 L852.3,2084.1 L848.6,2085.9 L844.8,2087.8 L841.0,2089.6 Z M901.0,2036.5 L904.8,2034.3 L908.6,2032.1 L912.3,2029.9 L916.1,2027.7 L919.9,2025.5 L923.7,2023.2 L927.4,2020.9 L931.2,2018.5 L935.0,2016.2 L935.0,2038.2 L931.2,2040.5 L927.4,2042.9 L923.7,2045.2 L919.9,2047.5 L916.1,2049.7 L912.3,2051.9 L908.6,2054.1 L904.8,2056.3 L901.0,2058.5 Z M961.0,1999.9 L964.8,1997.5 L968.6,1995.1 L972.4,1992.8 L976.2,1990.5 L980.0,1988.2 L983.8,1985.9 L987.6,1983.7 L991.4,1981.5 L995.2,1979.3 L999.0,1977.1 L999.0,1999.1 L995.2,2001.3 L991.4,2003.5 L987.6,2005.7 L983.8,2007.9 L980.0,2010.2 L976.2,2012.5 L972.4,2014.8 L968.6,2017.1 L964.8,2019.5 L961.0,2021.9 Z M1029.0,1961.0 L1032.8,1959.1 L1036.5,1957.2 L1040.2,1955.4 L1044.0,1953.5 L1047.8,1951.7 L1051.5,1949.9 L1055.2,1948.2 L1059.0,1946.4 L1059.0,1968.4 L1055.2,1970.2 L1051.5,1971.9 L1047.8,1973.7 L1044.0,1975.5 L1040.2,1977.4 L1036.5,1979.2 L1032.8,1981.1 L1029.0,1983.0 Z M1089.0,1933.1 L1092.8,1931.5 L1096.5,1930.0 L1100.2,1928.4 L1104.0,1926.9 L1107.8,1925.4 L1111.5,1923.9 L1115.2,1922.4 L1119.0,1920.9 L1119.0,1942.9 L1115.2,1944.4 L1111.5,1945.9 L1107.8,1947.4 L1104.0,1948.9 L1100.2,1950.4 L1096.5,1952.0 L1092.8,1953.5 L1089.0,1955.1 Z M1152.0,1908.6 L1155.8,1907.3 L1159.5,1905.9 L1163.2,1904.6 L1167.0,1903.3 L1170.8,1902.0 L1174.5,1900.7 L1178.2,1899.4 L1182.0,1898.2 L1185.8,1896.9 L1189.5,1895.7 L1193.2,1894.4 L1197.0,1893.2 L1197.0,1915.2 L1193.2,1916.4 L1189.5,1917.7 L1185.8,1918.9 L1182.0,1920.2 L1178.2,1921.4 L1174.5,1922.7 L1170.8,1924.0 L1167.0,1925.3 L1163.2,1926.6 L1159.5,1927.9 L1155.8,1929.3 L1152.0,1930.6 Z M1223.6,1884.7 L1227.4,1883.5 L1231.3,1882.4 L1235.1,1881.2 L1239.0,1880.0 L1242.8,1878.9 L1246.7,1877.7 L1250.5,1876.6 L1254.3,1875.5 L1258.2,1874.4 L1262.0,1873.2 L1265.9,1872.2 L1269.7,1871.1 L1269.7,1893.1 L1265.9,1894.2 L1262.0,1895.2 L1258.2,1896.4 L1254.3,1897.5 L1250.5,1898.6 L1246.7,1899.7 L1242.8,1900.9 L1239.0,1902.0 L1235.1,1903.2 L1231.3,1904.4 L1227.4,1905.5 L1223.6,1906.7 Z M1295.0,1864.1 L1298.7,1863.1 L1302.4,1862.1 L1306.1,1861.2 L1309.8,1860.2 L1313.5,1859.2 L1317.2,1858.3 L1320.8,1857.4 L1324.5,1856.4 L1328.2,1855.5 L1331.9,1854.6 L1335.6,1853.7 L1339.3,1852.8 L1343.0,1851.9 L1343.0,1873.9 L1339.3,1874.8 L1335.6,1875.7 L1331.9,1876.6 L1328.2,1877.5 L1324.5,1878.4 L1320.8,1879.4 L1317.2,1880.3 L1313.5,1881.2 L1309.8,1882.2 L1306.1,1883.2 L1302.4,1884.1 L1298.7,1885.1 L1295.0,1886.1 Z M1369.6,1845.6 L1373.5,1844.7 L1377.5,1843.8 L1381.4,1842.9 L1385.3,1842.1 L1389.3,1841.2 L1393.2,1840.3 L1397.1,1839.5 L1401.1,1838.6 L1405.0,1837.8 L1408.9,1837.0 L1412.9,1836.2 L1416.8,1835.3 L1416.8,1857.3 L1412.9,1858.2 L1408.9,1859.0 L1405.0,1859.8 L1401.1,1860.6 L1397.1,1861.5 L1393.2,1862.3 L1389.3,1863.2 L1385.3,1864.1 L1381.4,1864.9 L1377.5,1865.8 L1373.5,1866.7 L1369.6,1867.6 Z M1445.3,1829.6 L1449.1,1828.9 L1453.0,1828.2 L1456.8,1827.4 L1460.7,1826.7 L1464.5,1826.0 L1468.4,1825.3 L1472.2,1824.6 L1476.1,1823.9 L1480.0,1823.2 L1483.8,1822.5 L1487.7,1821.8 L1491.5,1821.1 L1491.5,1843.1 L1487.7,1843.8 L1483.8,1844.5 L1480.0,1845.2 L1476.1,1845.9 L1472.2,1846.6 L1468.4,1847.3 L1464.5,1848.0 L1460.7,1848.7 L1456.8,1849.4 L1453.0,1850.2 L1449.1,1850.9 L1445.3,1851.6 Z M1525.0,1815.4 L1528.8,1814.8 L1532.7,1814.2 L1536.5,1813.6 L1540.3,1813.0 L1544.2,1812.4 L1548.0,1811.8 L1551.8,1811.2 L1555.7,1810.6 L1559.5,1810.0 L1563.3,1809.4 L1567.2,1808.9 L1571.0,1808.3 L1571.0,1830.3 L1567.2,1830.9 L1563.3,1831.4 L1559.5,1832.0 L1555.7,1832.6 L1551.8,1833.2 L1548.0,1833.8 L1544.2,1834.4 L1540.3,1835.0 L1536.5,1835.6 L1532.7,1836.2 L1528.8,1836.8 L1525.0,1837.4 Z M1606.3,1803.3 L1610.2,1802.7 L1614.2,1802.2 L1618.1,1801.7 L1622.0,1801.1 L1626.0,1800.6 L1629.9,1800.1 L1633.8,1799.6 L1637.8,1799.1 L1641.7,1798.6 L1645.6,1798.1 L1649.6,1797.6 L1653.5,1797.1 L1653.5,1819.1 L1649.6,1819.6 L1645.6,1820.1 L1641.7,1820.6 L1637.8,1821.1 L1633.8,1821.6 L1629.9,1822.1 L1626.0,1822.6 L1622.0,1823.1 L1618.1,1823.7 L1614.2,1824.2 L1610.2,1824.7 L1606.3,1825.3 Z M1685.3,1793.2 L1689.1,1792.8 L1692.9,1792.3 L1696.7,1791.9 L1700.5,1791.5 L1704.3,1791.0 L1708.1,1790.6 L1711.9,1790.2 L1715.7,1789.7 L1719.5,1789.3 L1723.3,1788.9 L1727.1,1788.5 L1730.9,1788.1 L1734.7,1787.7 L1734.7,1809.7 L1730.9,1810.1 L1727.1,1810.5 L1723.3,1810.9 L1719.5,1811.3 L1715.7,1811.7 L1711.9,1812.2 L1708.1,1812.6 L1704.3,1813.0 L1700.5,1813.5 L1696.7,1813.9 L1692.9,1814.3 L1689.1,1814.8 L1685.3,1815.2 Z M1769.9,1783.9 L1773.7,1783.6 L1777.5,1783.2 L1781.3,1782.8 L1785.1,1782.4 L1788.9,1782.0 L1792.7,1781.6 L1796.5,1781.3 L1800.3,1780.9 L1804.1,1780.5 L1807.9,1780.2 L1811.7,1779.8 L1815.5,1779.4 L1819.3,1779.1 L1819.3,1801.1 L1815.5,1801.4 L1811.7,1801.8 L1807.9,1802.2 L1804.1,1802.5 L1800.3,1802.9 L1796.5,1803.3 L1792.7,1803.6 L1788.9,1804.0 L1785.1,1804.4 L1781.3,1804.8 L1777.5,1805.2 L1773.7,1805.6 L1769.9,1805.9 Z M1850.8,1776.1 L1854.6,1775.7 L1858.4,1775.4 L1862.1,1775.0 L1865.9,1774.7 L1869.7,1774.3 L1873.5,1774.0 L1877.2,1773.7 L1881.0,1773.3 L1884.8,1773.0 L1888.6,1772.6 L1892.3,1772.3 L1896.1,1772.0 L1899.9,1771.6 L1899.9,1793.6 L1896.1,1794.0 L1892.3,1794.3 L1888.6,1794.6 L1884.8,1795.0 L1881.0,1795.3 L1877.2,1795.7 L1873.5,1796.0 L1869.7,1796.3 L1865.9,1796.7 L1862.1,1797.0 L1858.4,1797.4 L1854.6,1797.7 L1850.8,1798.1 Z M1936.0,1768.4 L1939.8,1768.1 L1943.7,1767.7 L1947.5,1767.4 L1951.3,1767.1 L1955.2,1766.7 L1959.0,1766.4 L1962.8,1766.0 L1966.7,1765.7 L1970.5,1765.4 L1974.3,1765.0 L1978.2,1764.7 L1982.0,1764.4 L1982.0,1786.4 L1978.2,1786.7 L1974.3,1787.0 L1970.5,1787.4 L1966.7,1787.7 L1962.8,1788.0 L1959.0,1788.4 L1955.2,1788.7 L1951.3,1789.1 L1947.5,1789.4 L1943.7,1789.7 L1939.8,1790.1 L1936.0,1790.4 Z M2017.0,1761.3 L2020.7,1760.9 L2024.4,1760.6 L2028.1,1760.3 L2031.8,1759.9 L2035.5,1759.6 L2039.2,1759.3 L2042.8,1758.9 L2046.5,1758.6 L2050.2,1758.3 L2053.9,1757.9 L2057.6,1757.6 L2061.3,1757.3 L2065.0,1756.9 L2065.0,1778.9 L2061.3,1779.3 L2057.6,1779.6 L2053.9,1779.9 L2050.2,1780.3 L2046.5,1780.6 L2042.8,1780.9 L2039.2,1781.3 L2035.5,1781.6 L2031.8,1781.9 L2028.1,1782.3 L2024.4,1782.6 L2020.7,1782.9 L2017.0,1783.3 Z M2101.4,1753.5 L2104.8,1753.2 L2108.1,1752.9 L2111.4,1752.6 L2114.8,1752.2 L2118.2,1751.9 L2121.5,1751.9 L2121.5,1773.9 L2118.2,1773.9 L2114.8,1774.2 L2111.4,1774.6 L2108.1,1774.9 L2104.8,1775.2 L2101.4,1775.5 Z " fill="#f00"/>
<path d="M315.6,2161.5 L323.1,2161.5 L330.7,2161.5 L338.2,2161.5 L345.8,2161.5 L353.3,2161.5 L360.9,2161.5 L368.4,2161.5 L375.9,2161.5 L383.5,2161.5 L391.0,2161.5 L398.6,2161.5 L406.1,2161.5 L413.7,2161.5 L421.2,2161.5 L428.8,2161.5 L436.3,2161.5 L443.8,2161.5 L451.4,2161.4 L458.9,2161.4 L466.5,2161.4 L474.0,2161.3 L481.6,2161.2 L489.1,2161.2 L496.6,2161.1 L504.2,2161.0 L511.7,2160.9 L519.3,2160.5 L526.8,2160.0 L534.4,2159.4 L541.9,2158.9 L549.4,2158.3 L557.0,2157.6 L564.5,2156.9 L572.1,2156.2 L579.6,2155.5 L587.2,2154.7 L594.7,2154.0 L602.3,2153.3 L609.8,2152.6 L617.3,2151.9 L624.9,2151.3 L632.4,2150.6 L640.0,2149.9 L647.5,2149.3 L655.1,2148.6 L662.6,2148.0 L670.1,2147.3 L677.7,2146.6 L685.2,2146.0 L692.8,2145.3 L700.3,2144.7 L707.9,2144.0 L715.4,2143.4 L722.9,2142.7 L730.5,2142.1 L738.0,2141.4 L745.6,2140.7 L753.1,2140.1 L760.7,2139.4 L768.2,2138.8 L775.8,2138.1 L783.3,2137.5 L790.8,2136.8 L798.4,2136.1 L805.9,2135.5 L813.5,2134.8 L821.0,2134.2 L828.6,2133.5 L836.1,2132.9 L843.6,2132.2 L851.2,2131.5 L858.7,2130.9 L866.3,2130.2 L873.8,2129.6 L881.4,2128.9 L888.9,2128.3 L896.5,2127.6 L904.0,2127.0 L911.5,2126.3 L919.1,2125.6 L926.6,2125.0 L934.2,2124.3 L941.7,2123.7 L949.3,2123.0 L956.8,2122.3 L964.3,2121.6 L971.9,2121.0 L979.4,2120.3 L987.0,2119.6 L994.5,2118.9 L1002.1,2118.2 L1009.6,2117.5 L1017.1,2116.8 L1024.7,2116.1 L1032.2,2115.4 L1039.8,2114.7 L1047.3,2113.9 L1054.9,2113.2 L1062.4,2112.5 L1070.0,2111.7 L1077.5,2111.0 L1085.0,2110.3 L1092.6,2109.5 L1100.1,2108.8 L1107.7,2108.0 L1115.2,2107.3 L1122.8,2106.5 L1130.3,2105.8 L1137.8,2105.1 L1145.4,2104.3 L1152.9,2103.6 L1160.5,2102.8 L1168.0,2102.1 L1175.6,2101.4 L1183.1,2100.6 L1190.6,2099.9 L1198.2,2099.2 L1205.7,2098.5 L1213.3,2097.7 L1220.8,2097.0 L1228.4,2096.3 L1235.9,2095.6 L1243.5,2094.9 L1251.0,2094.2 L1258.5,2093.4 L1266.1,2092.7 L1273.6,2092.0 L1281.2,2091.3 L1288.7,2090.6 L1296.3,2089.9 L1303.8,2089.2 L1311.3,2088.5 L1318.9,2087.8 L1326.4,2087.0 L1334.0,2086.3 L1341.5,2085.6 L1349.1,2084.9 L1356.6,2084.2 L1364.1,2083.5 L1371.7,2082.7 L1379.2,2082.0 L1386.8,2081.3 L1394.3,2080.6 L1401.9,2079.8 L1409.4,2079.1 L1417.0,2078.4 L1424.5,2077.6 L1432.0,2076.9 L1439.6,2076.2 L1447.1,2075.4 L1454.7,2074.7 L1462.2,2073.9 L1469.8,2073.2 L1477.3,2072.5 L1484.8,2071.7 L1492.4,2071.0 L1499.9,2070.2 L1507.5,2069.5 L1515.0,2068.7 L1522.6,2068.0 L1530.1,2067.2 L1537.6,2066.5 L1545.2,2065.7 L1552.7,2064.9 L1560.3,2064.2 L1567.8,2063.4 L1575.4,2062.6 L1582.9,2061.8 L1590.5,2061.0 L1598.0,2060.2 L1605.5,2059.4 L1613.1,2058.6 L1620.6,2057.8 L1628.2,2056.9 L1635.7,2056.1 L1643.3,2055.2 L1650.8,2054.4 L1658.3,2053.5 L1665.9,2052.6 L1673.4,2051.7 L1681.0,2050.9 L1688.5,2050.0 L1696.1,2049.1 L1703.6,2048.2 L1711.2,2047.3 L1718.7,2046.4 L1726.2,2045.5 L1733.8,2044.6 L1741.3,2043.7 L1748.9,2042.9 L1756.4,2042.0 L1764.0,2041.1 L1771.5,2040.2 L1779.0,2039.4 L1786.6,2038.5 L1794.1,2037.7 L1801.7,2036.8 L1809.2,2036.0 L1816.8,2035.1 L1824.3,2034.3 L1831.8,2033.4 L1839.4,2032.6 L1846.9,2031.7 L1854.5,2030.8 L1862.0,2030.0 L1869.6,2029.1 L1877.1,2028.3 L1884.7,2027.4 L1892.2,2026.6 L1899.7,2025.7 L1907.3,2024.8 L1914.8,2024.0 L1922.4,2023.2 L1929.9,2022.3 L1937.5,2021.5 L1945.0,2020.7 L1952.5,2019.8 L1960.1,2019.0 L1967.6,2018.2 L1975.2,2017.4 L1982.7,2016.6 L1990.3,2015.9 L1997.8,2015.1 L2005.3,2014.3 L2012.9,2013.6 L2020.4,2012.9 L2028.0,2012.1 L2035.5,2011.4 L2043.1,2010.7 L2050.6,2010.0 L2058.2,2009.4 L2065.7,2008.7 L2073.2,2008.1 L2080.8,2007.4 L2088.3,2006.8 L2095.9,2006.2 L2103.4,2005.6 L2111.0,2005.0 L2118.5,2004.4" fill="none" stroke="#00f" stroke-width="18.5" stroke-linejoin="round"/>
<line x1="908.5" y1="1875.7" x2="1034.0" y2="1973.0" stroke="#000" stroke-width="15"/>
<line x1="1062.0" y1="2117.0" x2="1253.6" y2="2233.0" stroke="#000" stroke-width="15"/>
<line x1="1306.5" y1="2540.0" x2="1396.8" y2="2655.7" stroke="#000" stroke-width="15"/>
<text x="559.6" y="1861.5" font-size="108">In-wall CDPF</text>
<text x="985.6" y="2335.0" font-size="108.5">On-wall CDPF</text>
<text x="1320.2" y="2734.8" font-size="110">Bare</text>
<text x="1883.9" y="2903.0" font-size="162">(b)</text>
<text x="1130.9" y="3219.0" font-size="110">t [s]</text>
<text transform="translate(123,2335.5) rotate(-90)" font-size="111" text-anchor="middle">Pressure drop [kPa]</text>
</g>
</svg>
</body></html>
